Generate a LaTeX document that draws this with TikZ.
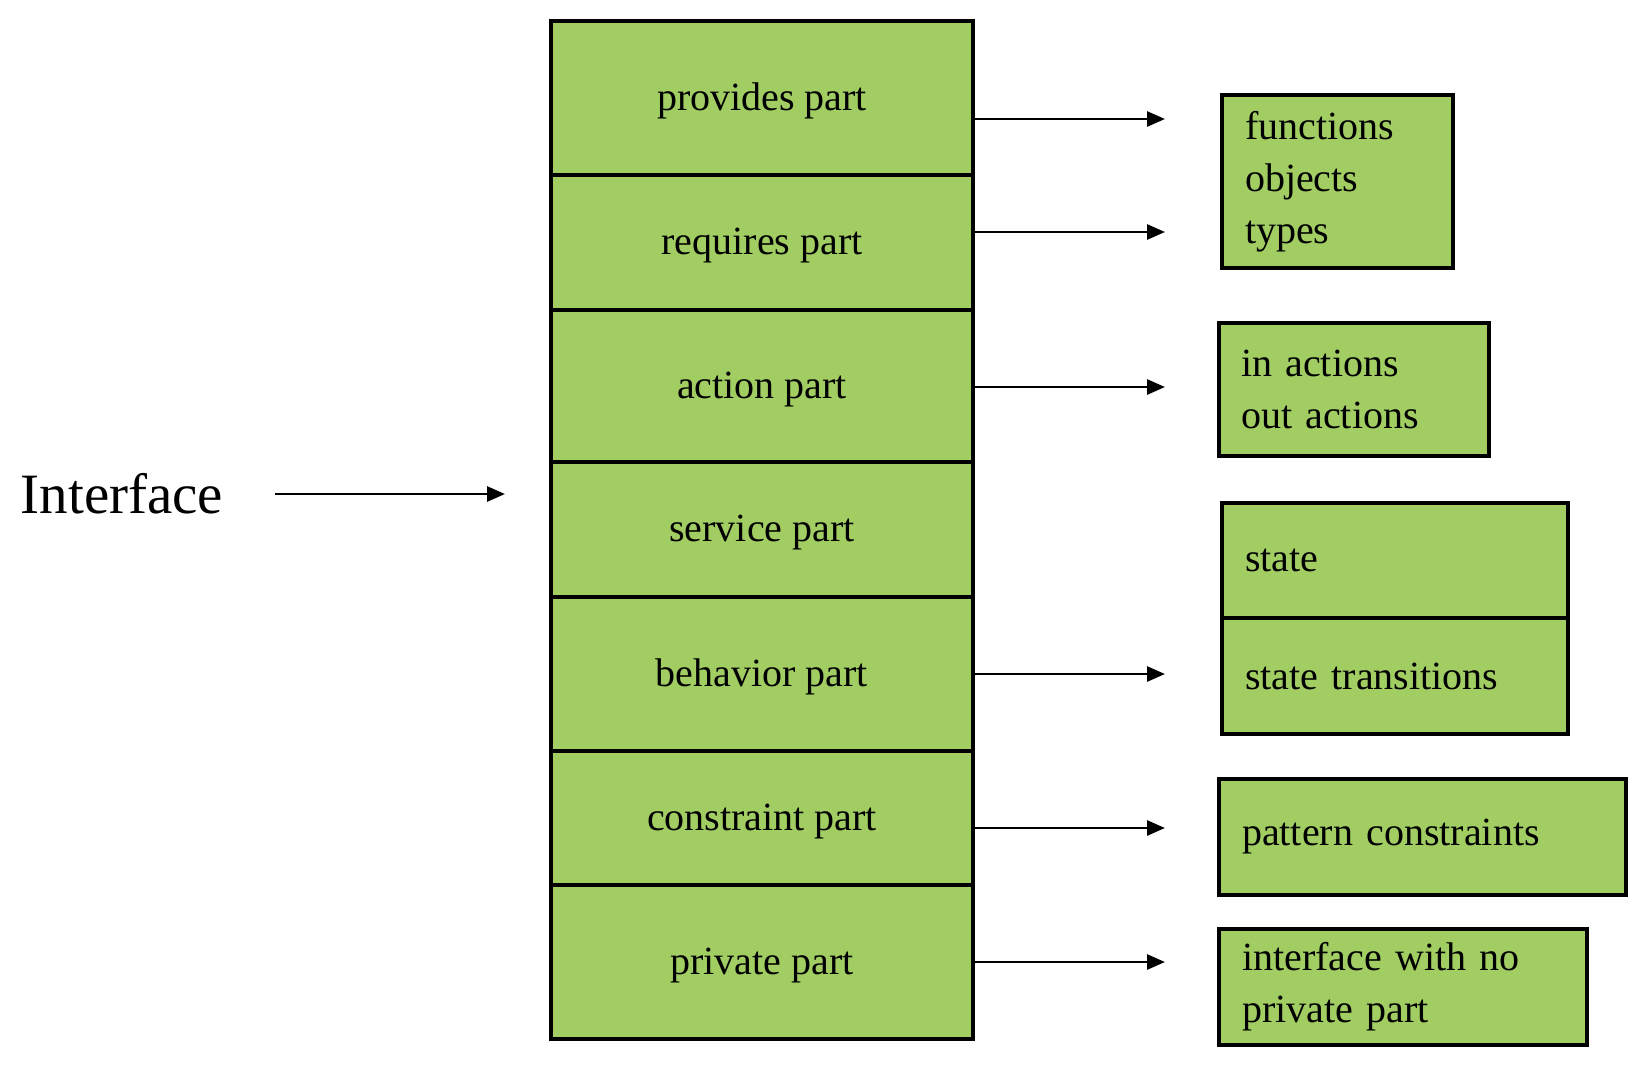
\documentclass[tikz,border=0pt]{standalone}
\usepackage{fontspec}
\setmainfont{Liberation Serif}
\usetikzlibrary{arrows.meta}
\definecolor{boxgreen}{RGB}{161,205,99}
\begin{document}
\begin{tikzpicture}[x=1pt,y=-1pt,
  rowbox/.style={draw=black, line width=3.2pt, fill=boxgreen, minimum width=422pt, inner sep=0pt,
    text height=27pt, text depth=3pt, font=\fontsize{40}{52}\selectfont},
  sidebox/.style={draw=black, line width=3.2pt, fill=boxgreen, inner sep=0pt, align=left,
    font=\fontsize{40}{52}\selectfont},
  arr/.style={line width=2.8pt, -{Triangle[length=18pt,width=15pt]}}]
\useasboundingbox (0,0) rectangle (1648,1068);
% main column
\node[rowbox, minimum height=154pt] (prov) at (762,98) {provides part};
\node[rowbox, minimum height=135pt] (req) at (762,242.5) {requires part};
\node[rowbox, minimum height=152pt] (act) at (762,386) {action part};
\node[rowbox, minimum height=135pt] (serv) at (762,529.5) {service part};
\node[rowbox, minimum height=154pt] (beh) at (762,674) {behavior part};
\node[rowbox, minimum height=134pt] (cons) at (762,818) {constraint part};
\node[rowbox, minimum height=154pt] (priv) at (762,962) {private part};
% interface label
\node[font=\fontsize{57}{60}\selectfont, inner sep=0pt] (iface) at (122,494) {Interface};
\coordinate (ia) at (275,494);
\coordinate (ib) at (505,494);
\draw[arr] (ia) -- (ib);
% side boxes
\node[sidebox, minimum width=231pt, minimum height=173pt, text width=185pt] (b1) at (1337.5,181.5) {functions\\objects\\types};
\node[sidebox, minimum width=270pt, minimum height=133pt, text width=226pt] (b2) at (1354,389.5) {in actions\\out actions};
\node[sidebox, minimum width=346pt, minimum height=115pt, text width=300pt] (b3a) at (1395,560.5) {state};
\node[sidebox, minimum width=346pt, minimum height=116pt, text width=300pt] (b3b) at (1395,676) {state transitions};
\node[sidebox, minimum width=407pt, minimum height=116pt, text width=361pt] (b4) at (1422.5,837) {pattern constraints};
\node[sidebox, minimum width=368pt, minimum height=116pt, text width=322pt] (b5) at (1403,987) {interface with no\\private part};
% arrow tips
\coordinate (t1) at (1165,119);
\coordinate (t2) at (1165,232);
\coordinate (t3) at (1165,387);
\coordinate (t4) at (1165,674);
\coordinate (t5) at (1165,828);
\coordinate (t6) at (1165,962);
\draw[arr] (prov.east |- t1) -- (t1);
\draw[arr] (req.east |- t2) -- (t2);
\draw[arr] (act.east |- t3) -- (t3);
\draw[arr] (beh.east |- t4) -- (t4);
\draw[arr] (cons.east |- t5) -- (t5);
\draw[arr] (priv.east |- t6) -- (t6);
\end{tikzpicture}
\end{document}
